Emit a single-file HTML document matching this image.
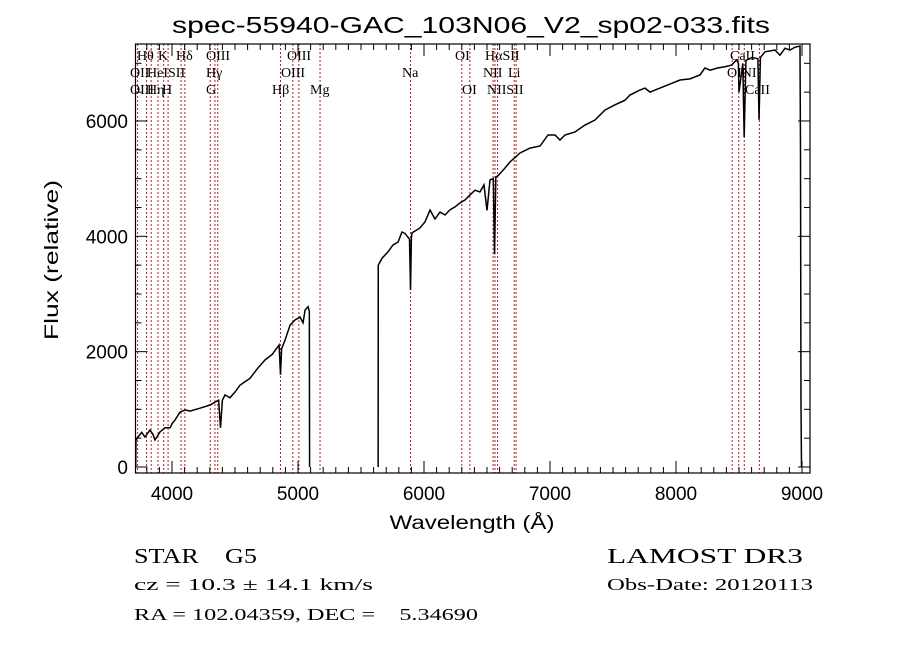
<!DOCTYPE html>
<html><head><meta charset="utf-8"><style>
html,body{margin:0;padding:0;background:#fff;}
svg{display:block;font-family:"Liberation Sans",sans-serif;}
text{white-space:pre;}
.lbl{font-family:"Liberation Serif",serif;font-size:14px;fill:#000;}
</style></head><body>
<svg id="chart" width="900" height="649" viewBox="0 0 900 649" xmlns="http://www.w3.org/2000/svg" xml:space="preserve">
<rect width="900" height="649" fill="#fff"/>
<text x="471" y="33" font-size="23" text-anchor="middle" textLength="598" lengthAdjust="spacingAndGlyphs">spec-55940-GAC_103N06_V2_sp02-033.fits</text>
<g id="lines"></g>
<g id="labels"></g>
<g id="ticks"></g>
<path id="spec" fill="none" stroke="#000" stroke-width="1.5"/>
<rect x="135.5" y="44" width="674.5" height="429" fill="none" stroke="#000" stroke-width="1.2"/>
<text transform="translate(58,260) rotate(-90)" font-size="19" text-anchor="middle" textLength="160" lengthAdjust="spacingAndGlyphs">Flux (relative)</text>
<text x="472" y="529" font-size="19" text-anchor="middle" textLength="165" lengthAdjust="spacingAndGlyphs">Wavelength (Å)</text>
<text x="134" y="563" font-size="21" textLength="123" lengthAdjust="spacingAndGlyphs" font-family="Liberation Serif, serif">STAR    G5</text>
<text x="134" y="590" font-size="17" textLength="239" lengthAdjust="spacingAndGlyphs" font-family="Liberation Serif, serif">cz = 10.3 ± 14.1 km/s</text>
<text x="134" y="620" font-size="17" textLength="344" lengthAdjust="spacingAndGlyphs" font-family="Liberation Serif, serif">RA = 102.04359, DEC =    5.34690</text>
<text x="607" y="563" font-size="21" textLength="196" lengthAdjust="spacingAndGlyphs" font-family="Liberation Serif, serif">LAMOST DR3</text>
<text x="607" y="590" font-size="17" textLength="206" lengthAdjust="spacingAndGlyphs" font-family="Liberation Serif, serif">Obs-Date: 20120113</text>
</svg>
<script>
const wavelengths = [3712,3714,3730,3760,3785,3825,3848,3865,3905,3945,3985,4000,4024,4048,4063,4103,4143,4222,4302,4370,4385,4400,4421,4460,4500,4540,4620,4683,4740,4794,4850,4861,4870,4897,4937,4976,5016,5040,5056,5080,5090,5091,5092,5636,5637,5667,5714,5754,5794,5825,5849,5885,5893,5900,5905,5968,6008,6048,6087,6127,6167,6206,6246,6286,6325,6365,6405,6444,6476,6500,6524,6550,6560,6570,6587,6643,6683,6762,6841,6921,6984,7040,7079,7119,7198,7278,7357,7437,7516,7595,7635,7714,7754,7794,7833,7873,7952,8032,8111,8191,8230,8270,8333,8389,8441,8481,8495,8500,8530,8541,8555,8603,8650,8659,8670,8706,8786,8825,8865,8905,8945,8984,8988,8992,8996,9060];
const fluxes = [0,470,520,600,520,640,570,470,610,680,680,750,815,900,950,990,970,1020,1075,1160,680,1160,1250,1200,1300,1420,1540,1720,1860,1950,2115,1600,2050,2200,2460,2550,2600,2500,2720,2780,2700,1200,0,0,3500,3620,3730,3850,3900,4075,4050,3950,3070,3980,4060,4145,4250,4456,4300,4420,4370,4460,4510,4580,4630,4717,4800,4770,4890,4450,4980,5000,3690,5030,5050,5185,5290,5445,5530,5566,5757,5757,5670,5757,5810,5930,6017,6190,6280,6360,6450,6537,6570,6500,6537,6570,6640,6710,6730,6800,6920,6880,6920,6940,6970,7060,7000,6500,7000,5720,7050,7100,7080,6020,7100,7200,7230,7140,7260,7230,7280,7300,5500,1100,0,0];
const lineWaves = [3727,3798,3835,3889,3934,3969,4072,4102,4304,4341,4363,4861,4959,5007,5175,5893,6300,6364,6548,6563,6584,6716,6731,8446,8498,8542,8662];
const xTickLabels = ["4000","5000","6000","7000","8000","9000"];
const yTickLabels = ["0","2000","4000","6000"];
const lineLabels = [["Hθ",137,60],["K",158,60],["Hδ",176,60],["OIII",206,60],["OIII",287,60],["OI",455,60],["HαSII",485,60],["CaII",730,60],
["OII",130,77],["HeI",147,77],["SII",168,77],["Hγ",206,77],["OIII",281,77],["Na",402,77],["NII",483,77],["Li",508,77],["OINI",727,77],
["OIII",130,94],["Hη",147,94],["H",162,94],["G",206,94],["Hβ",272,94],["Mg",310,94],["OI",462,94],["NIISII",487,94],["CaII",745,94]];
const NS='http://www.w3.org/2000/svg';
const X0=135.5,X1=810,Y0=44,Y1=473;
function xs(l){return 172+(l-4000)*0.126;}
function ys(f){return 467-f*0.05767;}
let d='';
for(let i=0;i<wavelengths.length;i++){
  const cmd=(i===0||(fluxes[i]===0&&fluxes[i-1]===0))?'M':'L';
  d+=cmd+xs(wavelengths[i]).toFixed(2)+','+Math.min(473,ys(fluxes[i])).toFixed(2);
}
document.getElementById('spec').setAttribute('d',d);
const lg=document.getElementById('lines');
lineWaves.forEach(w=>{const l=document.createElementNS(NS,'line');
l.setAttribute('x1',xs(w));l.setAttribute('x2',xs(w));l.setAttribute('y1',Y0);l.setAttribute('y2',Y1);
l.setAttribute('stroke','#b42020');l.setAttribute('stroke-width','1');l.setAttribute('stroke-dasharray','2,2');


lg.appendChild(l);});
const lb=document.getElementById('labels');
lineLabels.forEach(a=>{const t=document.createElementNS(NS,'text');t.setAttribute('x',a[1]);t.setAttribute('y',a[2]);t.setAttribute('class','lbl');t.textContent=a[0];


lb.appendChild(t);});
const tg=document.getElementById('ticks');
function ln(x1,y1,x2,y2){const l=document.createElementNS(NS,'line');l.setAttribute('x1',x1);l.setAttribute('y1',y1);l.setAttribute('x2',x2);l.setAttribute('y2',y2);l.setAttribute('stroke','#000');l.setAttribute('stroke-width','1');


tg.appendChild(l);}
function tx(s,x,y,anchor){const t=document.createElementNS(NS,'text');t.setAttribute('x',x);t.setAttribute('y',y);t.setAttribute('font-size','19');t.setAttribute('text-anchor',anchor);t.textContent=s;


tg.appendChild(t);}
for(let w=3800;w<=9000;w+=100){const x=xs(w);if(x<X0||x>X1)continue;const m=w%1000===0;const L=m?12:6;ln(x,Y1,x,Y1-L);ln(x,Y0,x,Y0+L);}
xTickLabels.forEach(s=>tx(s,xs(+s),500,'middle'));
for(let f=0;f<=7000;f+=500){const y=ys(f);const m=f%2000===0;const L=m?12:6;ln(X0,y,X0+L,y);ln(X1,y,X1-L,y);}
yTickLabels.forEach(s=>tx(s,128,ys(+s)+7,'end'));
</script>
</body></html>
